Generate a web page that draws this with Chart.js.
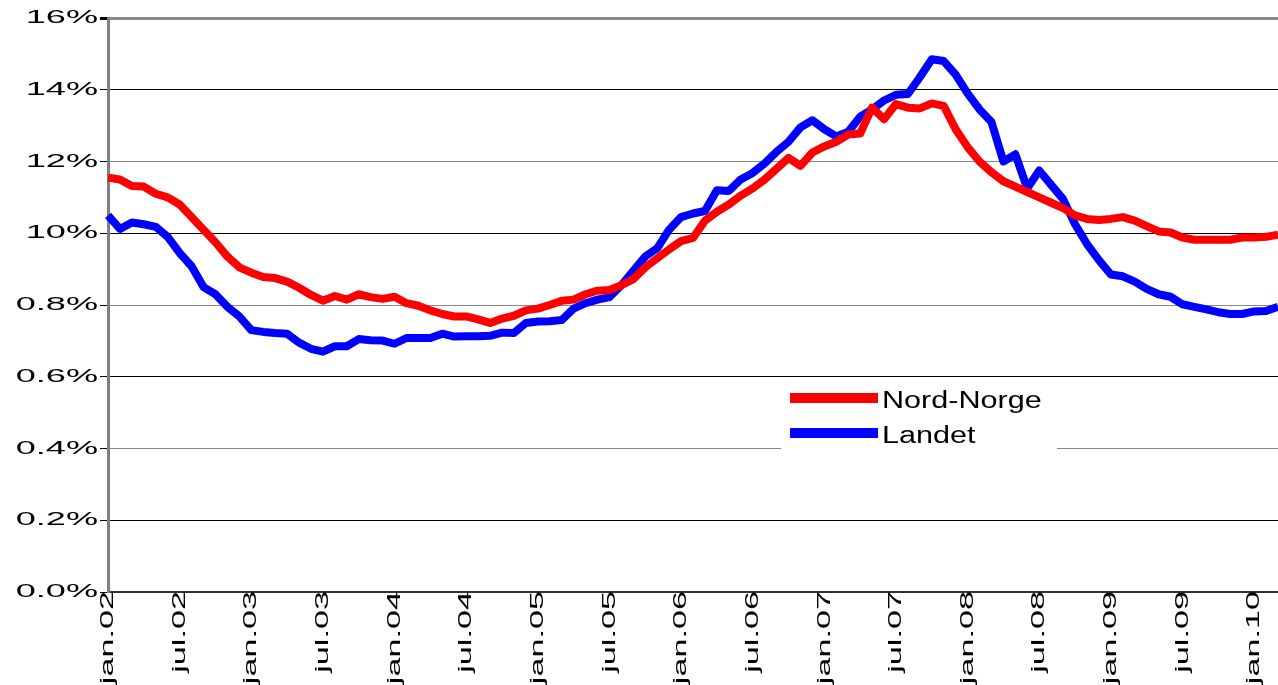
<!DOCTYPE html>
<html>
<head>
<meta charset="utf-8">
<script src="https://cdn.jsdelivr.net/npm/chart.js@4/dist/chart.umd.min.js"></script>
<style>
html, body { margin: 0; padding: 0; background: #fff; }
#wrap { width: 1278px; height: 685px; }
</style>
</head>
<body>
<div id="wrap"><canvas id="myChart"></canvas></div>
<script>
// måneder jan.02 - mar.10
const maaneder = ['jan', 'feb', 'mar', 'apr', 'mai', 'jun', 'jul', 'aug', 'sep', 'okt', 'nov', 'des'];
const aar = ['02', '03', '04', '05', '06', '07', '08', '09', '10'];
const antallMnd = 99;

// tick-tekster på y-aksen (slik de står i figuren)
const yTekster = ['0.0%', '0.2%', '0.4%', '0.6%', '0.8%', '10%', '12%', '14%', '16%'];

const nordNorge = [
  11.55, 11.5, 11.32, 11.3, 11.1, 11.0, 10.8, 10.45, 10.1, 9.75,
  9.35, 9.05, 8.9, 8.78, 8.75, 8.65, 8.48, 8.28, 8.12, 8.25,
  8.15, 8.3, 8.22, 8.17, 8.23, 8.05, 7.98, 7.85, 7.75, 7.68,
  7.68, 7.6, 7.5, 7.62, 7.7, 7.85, 7.9, 8.0, 8.12, 8.15,
  8.3, 8.4, 8.42, 8.55, 8.72, 9.05, 9.3, 9.55, 9.78, 9.87,
  10.35, 10.6, 10.8, 11.05, 11.25, 11.5, 11.8, 12.1, 11.88, 12.25,
  12.42, 12.55, 12.75, 12.78, 13.5, 13.18, 13.6, 13.5, 13.48, 13.62,
  13.55, 12.9, 12.4, 12.0, 11.7, 11.45, 11.3, 11.15, 11.0, 10.85,
  10.7, 10.5, 10.4, 10.37, 10.4, 10.45, 10.35, 10.2, 10.05, 10.02,
  9.88, 9.82, 9.82, 9.82, 9.82, 9.88, 9.88, 9.9, 9.96
];

const landet = [
  10.5, 10.12, 10.3, 10.25, 10.18, 9.9, 9.45, 9.08, 8.5, 8.3,
  7.95, 7.68, 7.3, 7.25, 7.22, 7.2, 6.95, 6.78, 6.7, 6.85,
  6.85, 7.05, 7.02, 7.01, 6.92, 7.08, 7.08, 7.08, 7.2, 7.12,
  7.13, 7.13, 7.14, 7.23, 7.22, 7.5, 7.54, 7.55, 7.58, 7.9,
  8.05, 8.15, 8.22, 8.55, 8.95, 9.35, 9.58, 10.1, 10.45, 10.55,
  10.62, 11.2, 11.18, 11.5, 11.68, 11.95, 12.27, 12.55, 12.95, 13.15,
  12.9, 12.7, 12.83, 13.25, 13.45, 13.7, 13.86, 13.88, 14.35, 14.85,
  14.8, 14.42, 13.9, 13.45, 13.1, 12.0, 12.2, 11.25, 11.75, 11.35,
  10.95, 10.25, 9.7, 9.25, 8.85, 8.8, 8.65, 8.45, 8.3, 8.23,
  8.02, 7.95, 7.88, 7.8, 7.75, 7.75, 7.82, 7.83, 7.95
];

var etiketter = [];
for (var i = 0; i < antallMnd; i++) {
  etiketter.push(maaneder[i % 12] + '.' + aar[Math.floor(i / 12)]);
}

const skrift = '"Liberation Sans", Arial, sans-serif';

// tegner strukket tekst på aksene og forklaringen
const egneTekster = {
  id: 'egneTekster',
  afterDraw(chart) {
    const c = chart.ctx;
    const xs = chart.scales.x;
    const ys = chart.scales.y;
    c.save();
    c.fillStyle = '#000';
    c.font = '19px ' + skrift;

    // y-aksen
    for (var k = 0; k < yTekster.length; k++) {
      const py = ys.getPixelForValue(k * 2);
      c.save();
      c.translate(98, py);
      c.scale(1.9, 1);
      c.textAlign = 'right';
      c.textBaseline = 'middle';
      c.fillText(yTekster[k], 0, 0);
      c.restore();
    }

    // x-aksen, hver 6. måned
    for (var j = 0; j < etiketter.length; j += 6) {
      const px = xs.getPixelForValue(j);
      c.save();
      c.translate(px, xs.top - 1);
      c.rotate(-Math.PI / 2);
      c.scale(1.8, 1);
      c.textAlign = 'right';
      c.textBaseline = 'middle';
      c.fillText(etiketter[j], 0, 0);
      c.restore();
    }

    // forklaring
    c.fillStyle = '#fff';
    c.fillRect(781, 381, 276, 71);
    const ds = chart.data.datasets;
    const linjeY = [398, 433];
    const tekstY = [408, 443];
    for (var d = 0; d < ds.length; d++) {
      c.strokeStyle = ds[d].borderColor;
      c.lineWidth = 10;
      c.beginPath();
      c.moveTo(790, linjeY[d]);
      c.lineTo(878, linjeY[d]);
      c.stroke();
      c.save();
      c.fillStyle = '#000';
      c.font = '23px ' + skrift;
      c.translate(882, tekstY[d]);
      c.scale(1.33, 1);
      c.textAlign = 'left';
      c.textBaseline = 'alphabetic';
      c.fillText(ds[d].label, 0, 0);
      c.restore();
    }
    c.restore();
  }
};

const ctx = document.getElementById('myChart');
new Chart(ctx, {
  type: 'line',
  data: {
    labels: etiketter,
    datasets: [
      {
        label: 'Nord-Norge',
        data: nordNorge,
        borderColor: '#ff0000',
        borderWidth: 8,
        pointRadius: 0,
        tension: 0,
        borderJoinStyle: 'round'
      },
      {
        label: 'Landet',
        data: landet,
        borderColor: '#0000ff',
        borderWidth: 8,
        pointRadius: 0,
        tension: 0,
        borderJoinStyle: 'round'
      }
    ]
  },
  options: {
    responsive: true,
    maintainAspectRatio: false,
    animation: false,
    layout: { padding: { top: 18, left: 0, right: 0, bottom: 0 } },
    plugins: {
      legend: { display: false },
      tooltip: { enabled: false }
    },
    scales: {
      x: {
        offset: false,
        grid: { display: false },
        border: { display: true, color: '#333', width: 2 },
        ticks: { display: false },
        afterFit: function (s) { s.height = 93; }
      },
      y: {
        min: 0,
        max: 16,
        ticks: { display: false, stepSize: 2 },
        grid: {
          color: function (g) { return g.index % 2 ? '#000' : '#888'; },
          lineWidth: function (g) { return g.index === 8 ? 3 : 1; },
          tickColor: '#000',
          tickLength: 8
        },
        border: { display: true, color: '#808080', width: 3 },
        afterFit: function (s) { s.width = 108; }
      }
    }
  },
  plugins: [egneTekster]
});
</script>
</body>
</html>
